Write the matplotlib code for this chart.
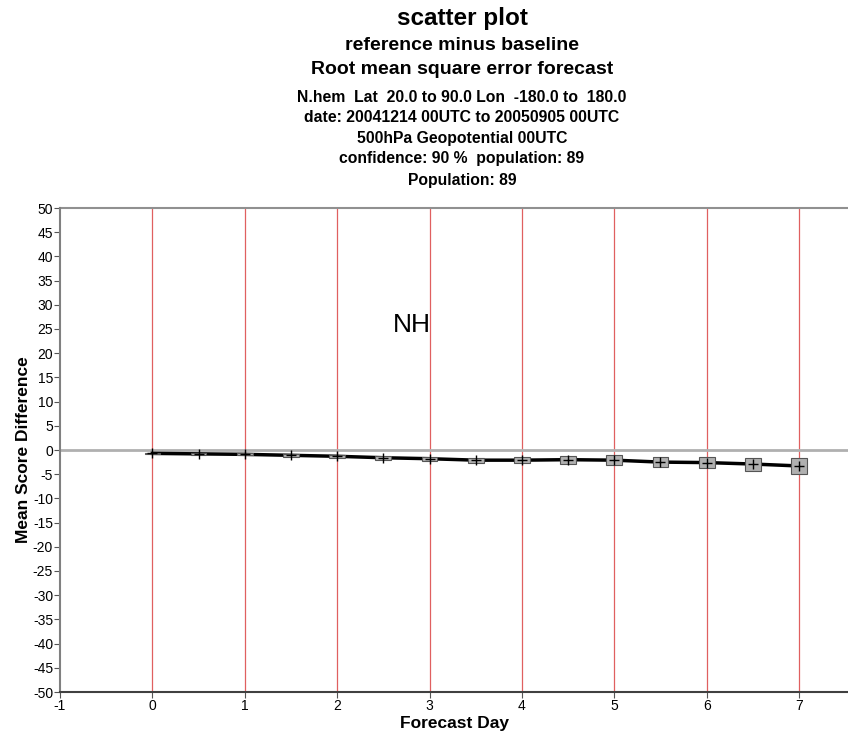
import matplotlib
matplotlib.use("Agg")
import matplotlib.pyplot as plt
from matplotlib.patches import Rectangle

plt.rcParams['font.family'] = ['Liberation Sans', 'DejaVu Sans']
plt.rcParams['axes.unicode_minus'] = False

days = [0, 0.5, 1, 1.5, 2, 2.5, 3, 3.5, 4, 4.5, 5, 5.5, 6, 6.5, 7]
mean_diff = [-0.7, -0.8, -0.9, -1.1, -1.3, -1.6, -1.8, -2.1, -2.1, -2.0, -2.1, -2.5, -2.6, -2.9, -3.3]
ci_half = [0.1, 0.15, 0.2, 0.25, 0.3, 0.4, 0.45, 0.5, 0.6, 0.8, 1.0, 1.1, 1.2, 1.35, 1.6]
x_ticks = [-1, 0, 1, 2, 3, 4, 5, 6, 7]
y_ticks = list(range(-50, 55, 5))
titles = [
    ("scatter plot", 17.5),
    ("reference minus baseline", 14),
    ("Root mean square error forecast", 14),
    ("N.hem  Lat  20.0 to 90.0 Lon  -180.0 to  180.0", 11.3),
    ("date: 20041214 00UTC to 20050905 00UTC", 11.3),
    ("500hPa Geopotential 00UTC", 11.3),
    ("confidence: 90 %  population: 89", 11.3),
    ("Population: 89", 11.3),
]
title_y = [18, 46, 70, 97, 117, 138, 159, 180]

fig = plt.figure(figsize=(8.48, 7.39), dpi=100)
ax = fig.add_axes([60/848, 1-692/739, (848-60)/848, (692-208)/739])
ax.set_xlim(-1, 7.53)
ax.set_ylim(-50, 50)

for d in x_ticks[1:]:
    ax.axvline(d, color='#e06060', lw=0.9, zorder=1)
ax.axhline(0, color='#b0b0b0', lw=2, zorder=1)
ax.axhline(50, color='#909090', lw=1.5, zorder=1, clip_on=False)

ax.plot(days, mean_diff, color='black', lw=2.5, zorder=3)
bw = 0.17
for d, m, h in zip(days, mean_diff, ci_half):
    ax.add_patch(Rectangle((d - bw/2, m - h), bw, 2*h, facecolor='#b0b0b0',
                           edgecolor='#555555', lw=0.8, zorder=4))
ax.plot(days, mean_diff, ls='none', marker='+', ms=7, mew=1, color='black', zorder=5)

ax.text(2.81, 25.8, "NH", fontsize=19, ha='center', va='center')

ax.set_xticks(x_ticks)
ax.set_yticks(y_ticks)
ax.tick_params(axis='both', labelsize=10, length=4, width=0.8, color='#555555', pad=1)
for s in ['top', 'right']:
    ax.spines[s].set_visible(False)
ax.spines['left'].set_color('#808080')
ax.spines['left'].set_linewidth(1.5)
ax.spines['bottom'].set_color('#404040')
ax.spines['bottom'].set_linewidth(1.5)

ax.set_xlabel("Forecast Day", fontsize=12.5, fontweight='bold', labelpad=2)
ax.set_ylabel("Mean Score Difference", fontsize=12.5, fontweight='bold', labelpad=1)

for (t, fs), y in zip(titles, title_y):
    fig.text(462/848, 1 - y/739, t, ha='center', va='center', fontsize=fs, fontweight='bold')

fig.savefig("out.png", dpi=100)
